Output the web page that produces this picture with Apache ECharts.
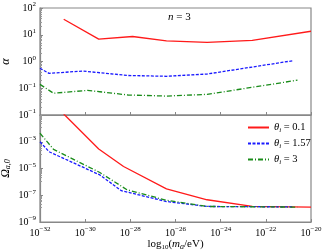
<!DOCTYPE html>
<html><head><meta charset="utf-8">
<script src="https://cdn.jsdelivr.net/npm/echarts@6/dist/echarts.min.js"></script>
<style>html,body{margin:0;padding:0;background:#fff}#c{width:327px;height:252px}</style>
</head><body><div id="c"></div>
<script>
// log10(m_a / eV) positions of the sampled points, per series
const redMassTop = [-30.95, -29.4, -27.9, -26.4, -24.6, -22.6, -20];
const redAlpha   = [38, 6.9, 8.6, 5.9, 5.2, 6.2, 13.5];
const blueMassTop = [-32, -31.6, -30.1, -29.35, -28.1, -26.4, -24.6, -20.8];
const blueAlpha   = [0.56, 0.36, 0.44, 0.38, 0.30, 0.28, 0.34, 1.07];
const greenMassTop = [-32, -31.4, -29.9, -29.35, -28.1, -26.4, -24.6, -20.6];
const greenAlpha   = [0.14, 0.065, 0.083, 0.074, 0.056, 0.051, 0.059, 0.2];

const redMassBot = [-30.95, -29.4, -28.3, -26.4, -24.6, -22.6, -20];
const redOmega   = [0.12, 2.9e-4, 1.4e-5, 3.0e-7, 4.6e-8, 1.45e-8, 1.3e-8];
const blueMassBot = [-32, -31.6, -29.35, -28.4, -26.4, -24.6, -20.8];
const blueOmega   = [1.0e-3, 1.8e-4, 3.3e-6, 2.2e-7, 3.4e-8, 1.45e-8, 1.35e-8];
const greenMassBot = [-32, -31.4, -29.35, -28.15, -26.4, -24.6, -20.6];
const greenOmega   = [4.3e-3, 2.7e-4, 5.0e-6, 2.6e-7, 4.2e-8, 1.45e-8, 1.3e-8];

const legendNames = ['0.1', '1.57', '3'];
const xMinExp = -32, xMaxExp = -20, xStep = 2;

const F = 'Liberation Serif';
const pair = (ms, vs) => ms.map((m, i) => [m, vs[i]]);
const supE = e => '{b|10}{s|' + (e < 0 ? '\u2212' + (-e) : e) + '}';
const supV = v => supE(Math.round(Math.log10(v)));
const rich = { b: { fontFamily: F, fontSize: 10, color: '#000' }, s: { fontFamily: F, fontSize: 7, color: '#000', verticalAlign: 'top', padding: [0, 0, 7, 0] } };
const axLine = { show: true, lineStyle: { color: '#888', width: 1.2 } };

const chart = echarts.init(document.getElementById('c'), null, { renderer: 'canvas' });
const xBase = (idx, showLabel) => ({
  type: 'value', gridIndex: idx, min: xMinExp, max: xMaxExp, interval: xStep,
  axisLine: axLine, axisTick: { show: true, inside: true, length: 3, lineStyle: { color: '#888' } },
  minorTick: { show: false }, splitLine: { show: false },
  axisLabel: { show: showLabel, formatter: v => supE(Math.round(v)), rich: rich, margin: 4 }
});
const yBase = (idx, min, max, interval, showMin, name) => ({
  type: 'log', logBase: 10, gridIndex: idx, min: min, max: max, interval: interval,
  axisLine: axLine, axisTick: { show: true, inside: true, length: 3, lineStyle: { color: '#888' } },
  minorTick: { show: true, splitNumber: 9, length: 2, lineStyle: { color: '#999' } },
  splitLine: { show: false },
  axisLabel: { formatter: supV, rich: rich, margin: 4, showMinLabel: showMin },
  name: name, nameLocation: 'middle', nameGap: 28, nameRotate: 90, nameMoveOverlap: false,
  nameTextStyle: { fontFamily: F, fontSize: 12, color: '#000', fontWeight: 'normal', rich: { i: { fontFamily: F, fontSize: 12, fontStyle: 'italic', color: '#000', fontWeight: 'normal' }, u: { fontFamily: F, fontSize: 8, fontStyle: 'italic', color: '#000', fontWeight: 'normal', verticalAlign: 'bottom', padding: [5, 0, 0, 0] } } }
});
const lines = [
  { c: '#ff1a1a', t: 'solid' }, { c: '#1a1aff', t: [3, 1.5] }, { c: '#1a8c1a', t: [5, 2, 1, 2] }
];
const mk = (name, xi, yi, data, k) => ({
  name: name, type: 'line', xAxisIndex: xi, yAxisIndex: yi, data: data, symbol: 'none',
  lineStyle: { color: lines[k].c, width: 1.3, type: lines[k].t }, itemStyle: { color: lines[k].c }, clip: true, animation: false
});
const gridCommon = { left: 40, right: 16, height: 107, show: true, borderColor: '#888', borderWidth: 1.2, containLabel: false, outerBoundsMode: 'none' };
chart.setOption({
  animation: false,
  grid: [
    Object.assign({ top: 8 }, gridCommon),
    Object.assign({ top: 115 }, gridCommon)
  ],
  xAxis: [
    xBase(0, false),
    Object.assign(xBase(1, true), { name: '{r|log}{d|10}{r|(}{i|m}{d2|a}{r|/eV)}', nameLocation: 'middle', nameGap: 14,
      nameTextStyle: { color: '#000', rich: { r: { fontFamily: F, fontSize: 11, color: '#000' }, d: { fontFamily: F, fontSize: 7, color: '#000', verticalAlign: 'bottom', padding: [6, 0, 0, 0] }, i: { fontFamily: F, fontSize: 11, fontStyle: 'italic', color: '#000' }, d2: { fontFamily: F, fontSize: 8, fontStyle: 'italic', color: '#000', verticalAlign: 'bottom', padding: [5, 0, 0, 0] } } } })
  ],
  yAxis: [
    yBase(0, 1e-2, 1e2, 1, false, '{i|\u03b1}'),
    yBase(1, 1e-9, 1e-1, 2, true, '{i|\u03a9}{u|a,0}')
  ],
  legend: {
    data: legendNames.map(n => '\u03b8i' + n),
    orient: 'vertical', left: 242, top: 117, itemWidth: 21, itemHeight: 8, itemGap: 4.5,
    itemStyle: { opacity: 0 },
    formatter: n => '{t|\u03b8}{s|i}{n| = ' + n.slice(2) + '}',
    textStyle: { rich: { t: { fontFamily: F, fontSize: 10.5, fontStyle: 'italic', color: '#000' }, s: { fontFamily: F, fontSize: 7, fontStyle: 'italic', color: '#000', verticalAlign: 'bottom', padding: [5, 0, 0, 0] }, n: { fontFamily: F, fontSize: 10.5, color: '#000' } } }
  },
  graphic: [
    { type: 'text', left: 168, top: 12, style: { text: '{i|n}{r| = 3}', rich: { i: { fontFamily: F, fontSize: 11, fontStyle: 'italic' }, r: { fontFamily: F, fontSize: 11 } } } }
  ],
  series: [
    mk('\u03b8i0.1x', 0, 0, pair(redMassTop, redAlpha), 0),
    mk('\u03b8i1.57x', 0, 0, pair(blueMassTop, blueAlpha), 1),
    mk('\u03b8i3x', 0, 0, pair(greenMassTop, greenAlpha), 2),
    mk('\u03b8i' + legendNames[0], 1, 1, pair(redMassBot, redOmega), 0),
    mk('\u03b8i' + legendNames[1], 1, 1, pair(blueMassBot, blueOmega), 1),
    mk('\u03b8i' + legendNames[2], 1, 1, pair(greenMassBot, greenOmega), 2)
  ]
});
</script></body></html>
